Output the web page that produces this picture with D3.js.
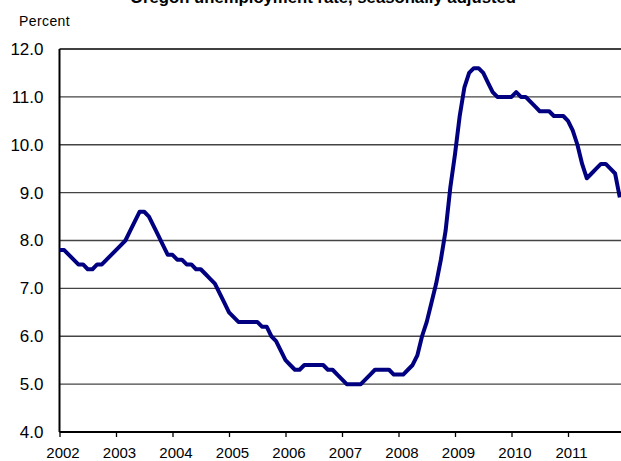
<!DOCTYPE html>
<html>
<head>
<meta charset="utf-8">
<script src="https://cdn.jsdelivr.net/npm/d3@7"></script>
<style>
  body { margin: 0; background: #fff; }
  svg { display: block; }
  text { font-family: "Liberation Sans", Arial, sans-serif; }
</style>
</head>
<body>
<div id="chart"></div>
<script>
const WIDTH = 621;
const HEIGHT = 461;

// monthly rates, Jan..Dec
const years = [2002, 2003, 2004, 2005, 2006, 2007, 2008, 2009, 2010, 2011];
const rate2002 = [7.8, 7.8, 7.7, 7.6, 7.5, 7.5, 7.4, 7.4, 7.5, 7.5, 7.6, 7.7];
const rate2003 = [7.8, 7.9, 8.0, 8.2, 8.4, 8.6, 8.6, 8.5, 8.3, 8.1, 7.9, 7.7];
const rate2004 = [7.7, 7.6, 7.6, 7.5, 7.5, 7.4, 7.4, 7.3, 7.2, 7.1, 6.9, 6.7];
const rate2005 = [6.5, 6.4, 6.3, 6.3, 6.3, 6.3, 6.3, 6.2, 6.2, 6.0, 5.9, 5.7];
const rate2006 = [5.5, 5.4, 5.3, 5.3, 5.4, 5.4, 5.4, 5.4, 5.4, 5.3, 5.3, 5.2];
const rate2007 = [5.1, 5.0, 5.0, 5.0, 5.0, 5.1, 5.2, 5.3, 5.3, 5.3, 5.3, 5.2];
const rate2008 = [5.2, 5.2, 5.3, 5.4, 5.6, 6.0, 6.3, 6.7, 7.1, 7.6, 8.2, 9.1];
const rate2009 = [9.8, 10.6, 11.2, 11.5, 11.6, 11.6, 11.5, 11.3, 11.1, 11.0, 11.0, 11.0];
const rate2010 = [11.0, 11.1, 11.0, 11.0, 10.9, 10.8, 10.7, 10.7, 10.7, 10.6, 10.6, 10.6];
const rate2011 = [10.5, 10.3, 10.0, 9.6, 9.3, 9.4, 9.5, 9.6, 9.6, 9.5, 9.4, 8.9];
const yTicks = [4, 5, 6, 7, 8, 9, 10, 11, 12];

const byYear = [rate2002, rate2003, rate2004, rate2005, rate2006,
                rate2007, rate2008, rate2009, rate2010, rate2011];
const data = [];
byYear.forEach((arr, k) => {
  arr.forEach((v, m) => data.push({ t: years[k] + m / 12, v: v }));
});

const svg = d3.select("#chart").append("svg")
  .attr("width", WIDTH)
  .attr("height", HEIGHT);

const x = d3.scaleLinear().domain([2002, 2012]).range([59.5, 624.5]);
const y = d3.scaleLinear().domain([4, 12]).range([432, 49]);

// title (cut off at the top in the original)
svg.append("text")
  .attr("x", 323)
  .attr("y", 3)
  .attr("text-anchor", "middle")
  .attr("font-weight", "bold")
  .attr("font-size", 16)
  .attr("textLength", 386)
  .attr("lengthAdjust", "spacingAndGlyphs")
  .text("Oregon unemployment rate, seasonally adjusted");

svg.append("text")
  .attr("x", 19)
  .attr("y", 26)
  .attr("font-size", 14)
  .attr("letter-spacing", 0.4)
  .text("Percent");

// gridlines
svg.append("g")
  .selectAll("line")
  .data(yTicks.filter(d => d > 4))
  .join("line")
  .attr("x1", x(2002))
  .attr("x2", WIDTH)
  .attr("y1", d => y(d))
  .attr("y2", d => y(d))
  .attr("stroke", d => d === 12 ? "#000" : "#444")
  .attr("stroke-width", 1.3);

// y labels
const yAxis = svg.append("g")
  .attr("transform", `translate(${x(2002)},0)`)
  .call(d3.axisLeft(y).tickValues(yTicks).tickSize(0).tickPadding(16).tickFormat(d3.format(".1f")));
yAxis.select(".domain").remove();
yAxis.selectAll("text").attr("font-size", 17).attr("fill", "#000").attr("font-family", "Liberation Sans");

// x axis
const xAxis = svg.append("g")
  .attr("transform", `translate(0,${y(4)})`)
  .call(d3.axisBottom(x).tickValues(d3.range(2002, 2013)).tickSize(5).tickPadding(10).tickFormat(d3.format("d")));
xAxis.select(".domain").remove();
xAxis.selectAll("line").attr("stroke", "#000").attr("stroke-width", 1.3);
xAxis.selectAll("text").attr("font-size", 15).attr("fill", "#000")
  .attr("font-family", "Liberation Sans").attr("dx", 3)
  .text(d => d < 2012 ? d : "");

// axis lines
svg.append("line")
  .attr("x1", x(2002)).attr("x2", WIDTH)
  .attr("y1", y(4)).attr("y2", y(4))
  .attr("stroke", "#000").attr("stroke-width", 2);
svg.append("line")
  .attr("x1", x(2002)).attr("x2", x(2002))
  .attr("y1", y(12)).attr("y2", y(4))
  .attr("stroke", "#000").attr("stroke-width", 2);

// the series
const line = d3.line().x(d => x(d.t)).y(d => y(d.v));
svg.append("path")
  .datum(data)
  .attr("d", line)
  .attr("fill", "none")
  .attr("stroke", "#000080")
  .attr("stroke-width", 4)
  .attr("stroke-linejoin", "round");
</script>
</body>
</html>
